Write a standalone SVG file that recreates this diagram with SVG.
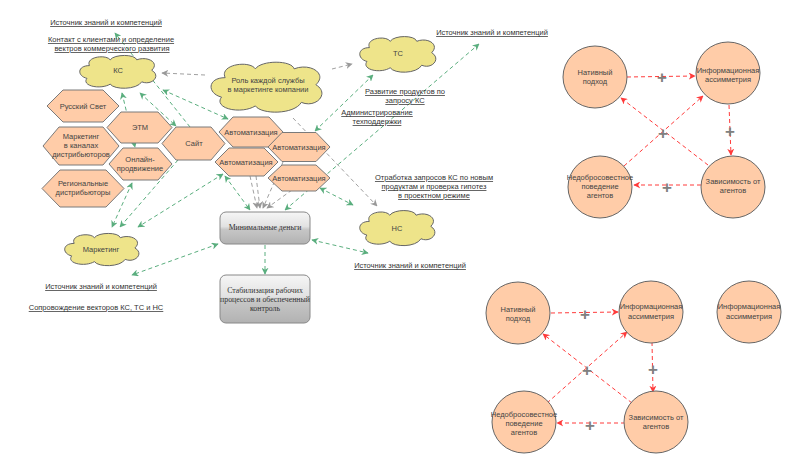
<svg xmlns="http://www.w3.org/2000/svg" xmlns:xlink="http://www.w3.org/1999/xlink" width="800" height="465" viewBox="0 0 800 465">
<style>
text{font-family:"Liberation Sans","DejaVu Sans",sans-serif;fill:#444;font-size:7.5px;text-anchor:middle}
.lbl{text-decoration:underline;fill:#333}
.hex{fill:#FFCCA8;stroke:#7a7a7a;stroke-width:1}
.cir{fill:#FFCCA8;stroke:#666;stroke-width:1}
.cloud{fill:#EEE48A;stroke:#666;stroke-width:1;vector-effect:non-scaling-stroke}
.box{fill:url(#bg);stroke:#888;stroke-width:1}
.bt{font-family:"Liberation Serif","DejaVu Serif",serif;font-size:7.8px;fill:#333}
.g{stroke:#5aae7e;stroke-width:1;stroke-dasharray:4 3;fill:none}
.gy{stroke:#a0a0a0;stroke-width:1;stroke-dasharray:4 3;fill:none}
.r{stroke:#ff3b3b;stroke-width:1;stroke-dasharray:4 3;fill:none}
.plus{font-size:17px;font-weight:bold;fill:#808080}
</style>
<defs>
<linearGradient id="bg" x1="0" y1="0" x2="0" y2="1">
<stop offset="0" stop-color="#f6f6f6"/><stop offset="0.45" stop-color="#e2e2e2"/><stop offset="0.55" stop-color="#c6c6c6"/><stop offset="1" stop-color="#b2b2b2"/>
</linearGradient>
<path id="cl" class="cloud" d="M 15 20 C 10 5, 35 0, 40 10 C 45 0, 70 0, 72 10 C 85 3, 100 15, 90 28 C 102 38, 90 55, 78 48 C 72 62, 45 62, 40 52 C 28 62, 5 55, 12 42 C 0 38, 0 20, 15 20 Z"/>
<marker id="ga" viewBox="0 0 10 10" refX="9" refY="5" markerWidth="7" markerHeight="7" markerUnits="userSpaceOnUse" orient="auto-start-reverse"><path d="M0,0 L10,5 L0,10 L3,5 Z" fill="#5aae7e"/></marker>
<marker id="gr" viewBox="0 0 10 10" refX="9" refY="5" markerWidth="7" markerHeight="7" markerUnits="userSpaceOnUse" orient="auto-start-reverse"><path d="M0,0 L10,5 L0,10 L3,5 Z" fill="#999"/></marker>
<marker id="rd" viewBox="0 0 10 10" refX="9" refY="5" markerWidth="7" markerHeight="7" markerUnits="userSpaceOnUse" orient="auto-start-reverse"><path d="M0,0 L10,5 L0,10 L3,5 Z" fill="#ff3b3b"/></marker>
</defs>
<rect width="800" height="465" fill="#fff"/>

<g id="connectors">
<line class="g" x1="190" y1="127" x2="115" y2="33" marker-end="url(#ga)"/>
<line class="g" x1="140" y1="93" x2="176" y2="126" marker-start="url(#ga)" marker-end="url(#ga)"/>
<line class="g" x1="163" y1="90" x2="228" y2="119" marker-start="url(#ga)" marker-end="url(#ga)"/>
<line class="g" x1="122" y1="93" x2="135" y2="147" marker-start="url(#ga)" marker-end="url(#ga)"/>
<line class="g" x1="132" y1="183" x2="112" y2="227" marker-start="url(#ga)" marker-end="url(#ga)"/>
<line class="g" x1="178" y1="160" x2="120" y2="227" marker-end="url(#ga)"/>
<line class="g" x1="223" y1="174" x2="138" y2="227" marker-start="url(#ga)" marker-end="url(#ga)"/>
<line class="g" x1="225" y1="176" x2="250" y2="210" marker-start="url(#ga)" marker-end="url(#ga)"/>
<line class="g" x1="285" y1="210" x2="479" y2="44" marker-start="url(#ga)" marker-end="url(#ga)"/>
<line class="g" x1="315" y1="131" x2="373" y2="75" marker-start="url(#ga)" marker-end="url(#ga)"/>
<line class="g" x1="320" y1="188" x2="353" y2="205" marker-start="url(#ga)" marker-end="url(#ga)"/>
<line class="g" x1="218" y1="244" x2="132" y2="275" marker-start="url(#ga)" marker-end="url(#ga)"/>
<line class="g" x1="265" y1="245" x2="265" y2="274" marker-end="url(#ga)"/>
<line class="g" x1="312" y1="240" x2="368" y2="253" marker-start="url(#ga)" marker-end="url(#ga)"/>
<line class="gy" x1="205" y1="75" x2="162" y2="73" marker-end="url(#gr)"/>
<line class="gy" x1="332" y1="69" x2="352" y2="64" marker-end="url(#gr)"/>
<line class="gy" x1="293" y1="118" x2="377" y2="206" marker-end="url(#gr)"/>
<line class="gy" x1="250" y1="176" x2="257" y2="208" marker-end="url(#gr)"/>
<line class="gy" x1="256" y1="176" x2="260" y2="208" marker-end="url(#gr)"/>
<line class="gy" x1="283" y1="162" x2="263" y2="208" marker-end="url(#gr)"/>
<line class="gy" x1="292" y1="190" x2="267" y2="208" marker-end="url(#gr)"/>
<line class="r" x1="627" y1="77" x2="695" y2="76" marker-end="url(#rd)"/>
<line class="r" x1="729" y1="105" x2="731" y2="155" marker-end="url(#rd)"/>
<line class="r" x1="701" y1="185" x2="634" y2="185" marker-end="url(#rd)"/>
<line class="r" x1="708" y1="165" x2="621" y2="98" marker-end="url(#rd)"/>
<line class="r" x1="624" y1="166" x2="703" y2="96" marker-end="url(#rd)"/>
<line class="r" x1="551" y1="313" x2="618" y2="312" marker-end="url(#rd)"/>
<line class="r" x1="652" y1="342" x2="653" y2="392" marker-end="url(#rd)"/>
<line class="r" x1="625" y1="423" x2="557" y2="423" marker-end="url(#rd)"/>
<line class="r" x1="632" y1="403" x2="543" y2="334" marker-end="url(#rd)"/>
<line class="r" x1="547" y1="403" x2="627" y2="332" marker-end="url(#rd)"/>
<text class="plus" x="662" y="83">+</text>
<text class="plus" x="730" y="137">+</text>
<text class="plus" x="667" y="193">+</text>
<text class="plus" x="663" y="139">+</text>
<text class="plus" x="585" y="320">+</text>
<text class="plus" x="653" y="375">+</text>
<text class="plus" x="590" y="431">+</text>
<text class="plus" x="587" y="376">+</text>
</g>

<g id="labels">
<text class="lbl" x="106" y="25">Источник знаний и компетенций</text>
<text class="lbl" x="111" y="42">Контакт с клиентами и определение</text>
<text class="lbl" x="112" y="51">вектров коммерческого развития</text>
<text class="lbl" x="492" y="35">Источник знаний и компетенций</text>
<text class="lbl" x="405" y="94">Развитие продуктов по</text>
<text class="lbl" x="405" y="103">запросу КС</text>
<text class="lbl" x="377" y="115">Администрирование</text>
<text class="lbl" x="377" y="124">техподдержки</text>
<text class="lbl" x="434" y="180">Отработка запросов КС по новым</text>
<text class="lbl" x="434" y="189">продуктам и проверка гипотез</text>
<text class="lbl" x="434" y="198">в проектном режиме</text>
<text class="lbl" x="410" y="268">Источник знаний и компетенций</text>
<text class="lbl" x="101" y="289">Источник знаний и компетенций</text>
<text class="lbl" x="96" y="310">Сопровождение векторов КС, ТС и НС</text>
</g>

<g id="cloud-ks"><use xlink:href="#cl" href="#cl" transform="translate(77,54) scale(0.83,0.58)"/><text x="118" y="73">КС</text></g>
<g id="cloud-role"><use xlink:href="#cl" href="#cl" transform="translate(207,60) scale(1.21,0.883)"/><text x="268" y="83">Роль каждой службы</text><text x="268" y="92">в маркетинге компании</text></g>
<g id="cloud-ts"><use xlink:href="#cl" href="#cl" transform="translate(357,35) scale(0.83,0.63)"/><text x="398" y="56">ТС</text></g>
<g id="cloud-ns"><use xlink:href="#cl" href="#cl" transform="translate(357,209) scale(0.82,0.62)"/><text x="397" y="231">НС</text></g>
<g id="cloud-mk"><use xlink:href="#cl" href="#cl" transform="translate(62,232) scale(0.81,0.57)"/><text x="101" y="252">Маркетинг</text></g>

<g id="hex-rs"><polygon class="hex" points="47,106 63,90 103,90 119,106 103,122 63,122"/><text x="83" y="109">Русский Свет</text></g>
<g id="hex-etm"><polygon class="hex" points="107,127.5 121,112 158,112 172,127.5 158,143 121,143"/><text x="140" y="130">ЭТМ</text></g>
<g id="hex-mkd"><polygon class="hex" points="43,146 59,127 103,127 119,146 103,165 59,165"/><text x="81" y="139">Маркетинг</text><text x="81" y="148">в каналах</text><text x="81" y="157">дистрибьюторов</text></g>
<g id="hex-site"><polygon class="hex" points="162,143.5 176,127 211,127 225,143.5 211,160 176,160"/><text x="194" y="146">Сайт</text></g>
<g id="hex-online"><polygon class="hex" points="109,164 123,148 158,148 172,164 158,180 123,180"/><text x="140" y="162">Онлайн-</text><text x="140" y="171">продвижение</text></g>
<g id="hex-reg"><polygon class="hex" points="42,188.5 60,170 106,170 124,188.5 106,207 60,207"/><text x="83" y="186">Региональные</text><text x="83" y="195">дистрибьюторы</text></g>
<g id="hex-a1"><polygon class="hex" points="219,132 233,117 269,117 283,132 269,147 233,147"/><text x="251" y="135">Автоматизация</text></g>
<g id="hex-a2"><polygon class="hex" points="268,147 282,132.5 316,132.5 330,147 316,161.5 282,161.5"/><text x="299" y="150">Автоматизация</text></g>
<g id="hex-a3"><polygon class="hex" points="215,162 229,148 264,148 278,162 264,176 229,176"/><text x="246" y="165">Автоматизация</text></g>
<g id="hex-a4"><polygon class="hex" points="268,178 282,165 316,165 330,178 316,191 282,191"/><text x="299" y="181">Автоматизация</text></g>

<g id="box-money"><rect class="box" x="220" y="212" width="90" height="32" rx="6"/><text class="bt" x="265" y="230">Минимальные деньги</text></g>
<g id="box-stab"><rect class="box" x="220" y="275" width="90" height="48" rx="6"/><text class="bt" x="265" y="293">Стабилизация рабочих</text><text class="bt" x="265" y="302">процессов и обеспеченный</text><text class="bt" x="265" y="311">контроль</text></g>

<g id="c1-nat"><ellipse class="cir" cx="595" cy="77" rx="32" ry="31"/><text x="595" y="75">Нативный</text><text x="595" y="84">подход</text></g>
<g id="c1-info"><ellipse class="cir" cx="728" cy="73" rx="32" ry="31"/><text x="728" y="73">Информационная</text><text x="728" y="82">ассимметрия</text></g>
<g id="c1-ned"><ellipse class="cir" cx="600" cy="187" rx="32" ry="31"/><text x="600" y="180">Недобросовестное</text><text x="600" y="189">поведение</text><text x="600" y="198">агентов</text></g>
<g id="c1-zav"><ellipse class="cir" cx="733" cy="187" rx="32" ry="31"/><text x="733" y="184">Зависимость от</text><text x="733" y="193">агентов</text></g>

<g id="c2-nat"><ellipse class="cir" cx="518" cy="313" rx="32" ry="31"/><text x="518" y="312">Нативный</text><text x="518" y="321">подход</text></g>
<g id="c2-info"><ellipse class="cir" cx="651" cy="312" rx="32" ry="31"/><text x="651" y="309">Информационная</text><text x="651" y="319">ассимметрия</text></g>
<g id="c2-info2"><ellipse class="cir" cx="749" cy="312" rx="32" ry="31"/><text x="749" y="309">Информационная</text><text x="749" y="319">ассимметрия</text></g>
<g id="c2-ned"><ellipse class="cir" cx="524" cy="422" rx="32" ry="31"/><text x="524" y="417">Недобросовестное</text><text x="524" y="426">поведение</text><text x="524" y="435">агентов</text></g>
<g id="c2-zav"><ellipse class="cir" cx="656" cy="422" rx="32" ry="31"/><text x="656" y="420">Зависимость от</text><text x="656" y="429">агентов</text></g>
</svg>
